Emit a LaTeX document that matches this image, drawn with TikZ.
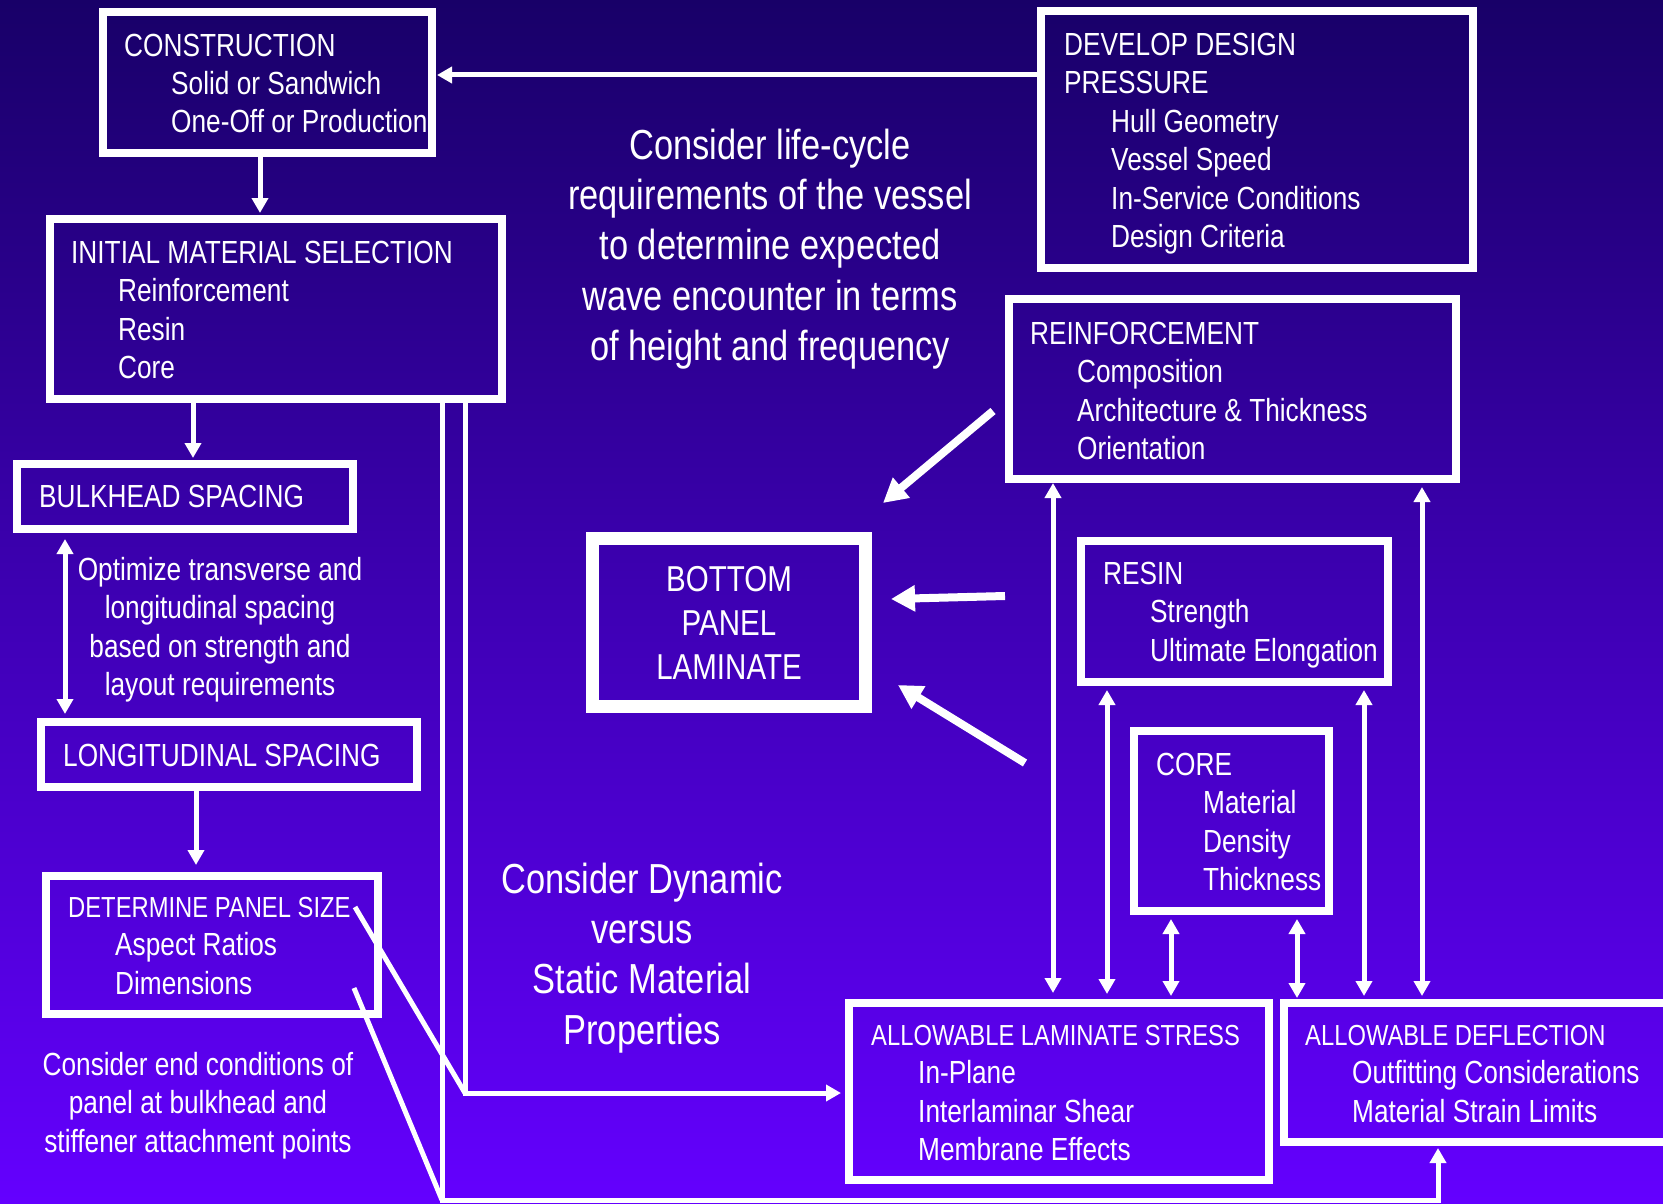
\documentclass[tikz,border=0pt]{standalone}
\usepackage{fontspec}
\setmainfont{Liberation Sans}[FakeStretch=0.82]
\usetikzlibrary{arrows.meta,calc}
\definecolor{bgtop}{RGB}{24,0,104}
\definecolor{bgbot}{RGB}{100,0,255}
\newcommand{\subind}{\hspace*{47pt}}
\newcommand{\smallhead}[1]{{\fontsize{29}{38.5}\selectfont #1}}

\begin{document}
\begin{tikzpicture}[x=1pt,y=-1pt,
  framebox/.style={draw=white,line width=8pt,inner sep=0pt,outer sep=0pt,rectangle},
  % multi-line texts are placed by the baseline of their last line
  boxtext/.style={text=white,inner sep=0pt,align=left,anchor=base west,
    font=\fontsize{32}{38.5}\selectfont},
  midtext/.style={text=white,inner sep=0pt,align=center,anchor=base,
    font=\fontsize{42}{50.4}\selectfont},
  notetext/.style={text=white,inner sep=0pt,align=center,anchor=base,
    font=\fontsize{32}{38.5}\selectfont},
  plain/.style={draw=white,line width=5pt},
  conn/.style={draw=white,line width=5pt,-{Triangle[width=16pt,length=15pt]}},
  biconn/.style={draw=white,line width=5pt,
    {Triangle[width=16pt,length=15pt]}-{Triangle[width=16pt,length=15pt]}},
  bigarrow/.style={draw=white,line width=8pt,-{Triangle[width=25pt,length=24pt]}}]

% page and background
\useasboundingbox (0,0) rectangle (1663,1204);
\clip (0,0) rectangle (1663,1204);
\shade[top color=bgtop,bottom color=bgbot] (0,0) rectangle (1663,1204);

% boxes
\node[framebox,minimum width=329pt,minimum height=141pt] (cons) at (267.5,82.5) {};
\node[framebox,minimum width=432pt,minimum height=257pt] (dev) at (1257,139.5) {};
\node[framebox,minimum width=452pt,minimum height=180pt] (init) at (276,309) {};
\node[framebox,minimum width=336pt,minimum height=65pt] (bulk) at (185,496.5) {};
\node[framebox,minimum width=376pt,minimum height=65pt] (long) at (229,754.5) {};
\node[framebox,minimum width=332pt,minimum height=138pt] (det) at (212,945) {};
\node[framebox,minimum width=447pt,minimum height=180pt] (reinf) at (1232.5,389) {};
\node[framebox,minimum width=307pt,minimum height=141pt] (resin) at (1234.5,611.5) {};
\node[framebox,minimum width=195pt,minimum height=180pt] (core) at (1231.5,821) {};
\node[framebox,minimum width=420pt,minimum height=177pt] (als) at (1059,1091.5) {};
\node[framebox,minimum width=412pt,minimum height=139pt] (adf) at (1490,1072.5) {};
\node[framebox,line width=13pt,minimum width=273pt,minimum height=168pt,
  align=center,text=white,font=\fontsize{36}{44}\selectfont] (bpl) at (729,622.5)
  {BOTTOM\\PANEL\\LAMINATE};

% box contents
\node[boxtext] (cons-t) at (124,133) {CONSTRUCTION\\\subind Solid or Sandwich\\\subind One-Off or Production};
\node[boxtext] (dev-t) at (1064,247.5) {DEVELOP DESIGN\\PRESSURE\\\subind Hull Geometry\\\subind Vessel Speed\\\subind In-Service Conditions\\\subind Design Criteria};
\node[boxtext] (init-t) at (71,378.5) {INITIAL MATERIAL SELECTION\\\subind Reinforcement\\\subind Resin\\\subind Core};
\node[boxtext] (bulk-t) at (39,507) {BULKHEAD SPACING};
\node[boxtext] (long-t) at (63,766) {LONGITUDINAL SPACING};
\node[boxtext] (det-t) at (68,994) {\smallhead{DETERMINE PANEL SIZE}\\\subind Aspect Ratios\\\subind Dimensions};
\node[boxtext] (reinf-t) at (1030,459.5) {REINFORCEMENT\\\subind Composition\\\subind Architecture \& Thickness\\\subind Orientation};
\node[boxtext] (resin-t) at (1103,661) {RESIN\\\subind Strength\\\subind Ultimate Elongation};
\node[boxtext] (core-t) at (1156,890.5) {CORE\\\subind Material\\\subind Density\\\subind Thickness};
\node[boxtext] (als-t) at (871,1160.5) {\smallhead{ALLOWABLE LAMINATE STRESS}\\\subind In-Plane\\\subind Interlaminar Shear\\\subind Membrane Effects};
\node[boxtext] (adf-t) at (1305,1122) {\smallhead{ALLOWABLE DEFLECTION}\\\subind Outfitting Considerations\\\subind Material Strain Limits};

% free notes
\node[midtext] (life) at (770,360.6) {Consider life-cycle\\requirements of the vessel\\to determine expected\\wave encounter in terms\\of height and frequency};
\node[midtext] (dyn) at (642,1044.2) {Consider Dynamic\\versus\\Static Material\\Properties};
\node[notetext] (opt) at (220,695.5) {Optimize transverse and\\longitudinal spacing\\based on strength and\\layout requirements};
\node[notetext] (endc) at (198,1152) {Consider end conditions of\\panel at bulkhead and\\stiffener attachment points};

% left-hand chain
\draw[conn,shorten >=5pt] ([yshift=64.5pt]dev.west) -- ([yshift=7.5pt]cons.east);
\draw[conn,shorten >=6pt] ([xshift=-7.5pt]cons.south) -- ([xshift=-16pt]init.north);
\draw[conn,shorten >=6pt] ([xshift=-83pt]init.south) -- ([xshift=8pt]bulk.north);
\draw[biconn,shorten <=10pt,shorten >=8pt] ([xshift=-120pt]bulk.south) -- ([xshift=-164pt]long.north);
\draw[conn,shorten >=11pt] ([xshift=-33pt]long.south) -- ([xshift=-16pt]det.north);

% feeds from material selection to the allowables
\coordinate (c1) at (465,1093);
\coordinate (c2) at (442,1200);
\draw[conn,shorten >=6pt] ([xshift=166pt]init.south) -- (c2) -| ([xshift=-52pt]adf.south);
\draw[conn,shorten >=8pt] ([xshift=189pt]init.south) -- (c1) -- (c1 -| als.west);
\draw[plain] ([xshift=-23pt,yshift=-31pt]det.north east) -- (c1);
\draw[plain] ([xshift=-24pt,yshift=26pt]det.south east) -- (c2);

% inputs to the laminate
\draw[bigarrow] ([xshift=-16pt,yshift=-22pt]reinf.west) -- ([xshift=17.5pt,yshift=35.5pt]bpl.north east);
\draw[bigarrow] ([xshift=-76pt,yshift=15.5pt]resin.west) -- ([xshift=25.5pt,yshift=23.5pt]bpl.east);
\draw[bigarrow] ([xshift=-109pt,yshift=58pt]core.west) -- ([xshift=32.5pt,yshift=21.5pt]bpl.south east);

% two-way links between materials and allowables
\draw[biconn,shorten <=4pt,shorten >=10pt] ([xshift=44pt]reinf.south west) -- ([xshift=204pt]als.north west);
\draw[biconn,shorten <=8pt,shorten >=9pt] ([xshift=26pt]resin.south west) -- ([xshift=258pt]als.north west);
\draw[biconn,shorten <=8pt,shorten >=7pt] ([xshift=37pt]core.south west) -- ([xshift=322pt]als.north west);
\draw[biconn,shorten <=8pt,shorten >=5pt] ([xshift=163pt]core.south west) -- ([xshift=13pt]adf.north west);
\draw[biconn,shorten <=8pt,shorten >=7pt] ([xshift=283pt]resin.south west) -- ([xshift=80pt]adf.north west);
\draw[biconn,shorten <=8pt,shorten >=7pt] ([xshift=413pt]reinf.south west) -- ([xshift=138pt]adf.north west);
\end{tikzpicture}
\end{document}
